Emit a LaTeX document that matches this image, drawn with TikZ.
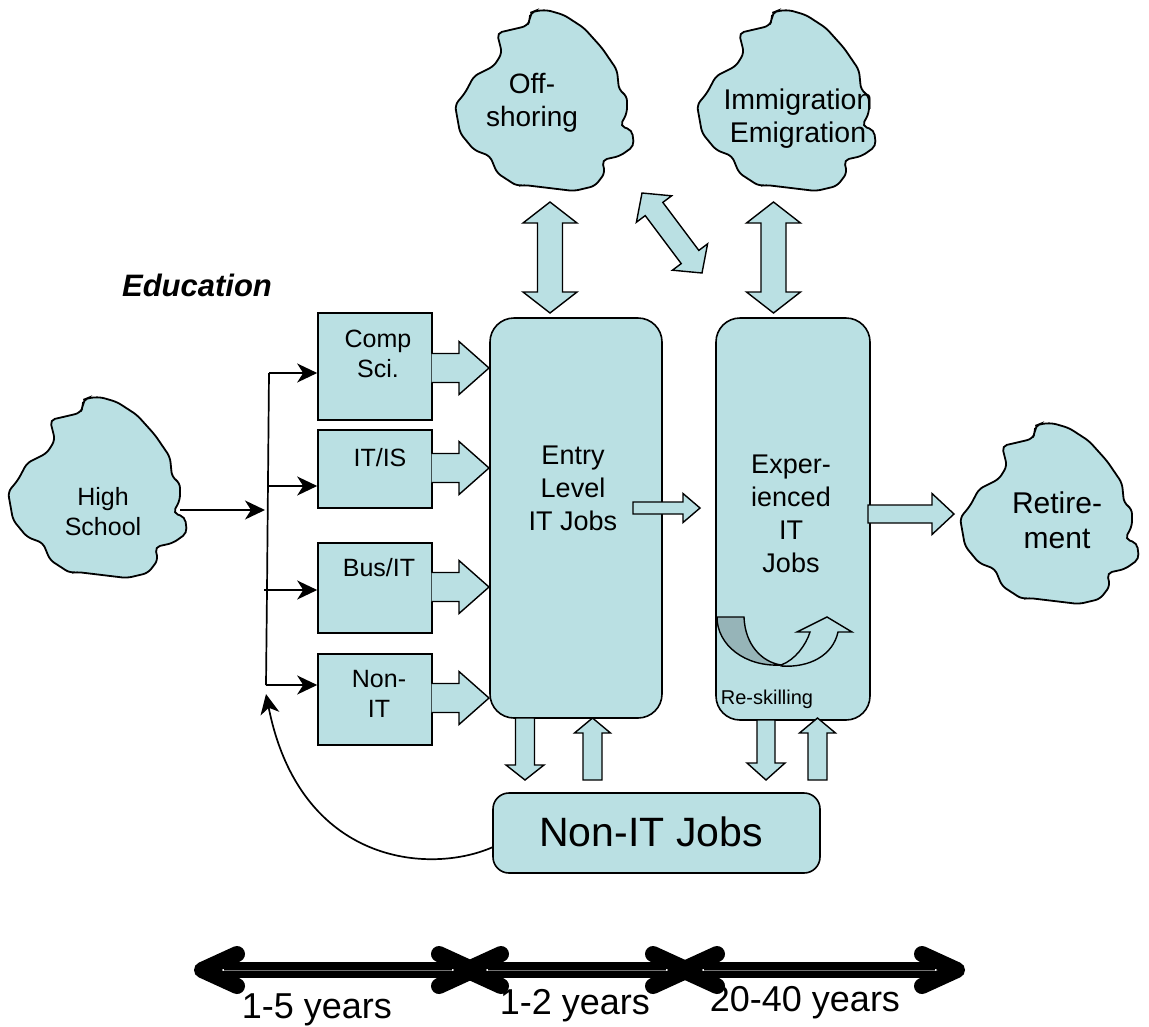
\documentclass[tikz,border=0pt]{standalone}
\usepackage{fontspec}
\setmainfont{Liberation Sans}
\usetikzlibrary{calc,arrows.meta}
\definecolor{lb}{RGB}{186,224,227}
\definecolor{dg}{RGB}{150,180,184}
\newcommand\fsz[2]{\fontsize{#1}{#2}\selectfont}
\tikzset{
 blk/.style={fill=lb,draw=black,line width=1.4pt},
 blkline/.style={draw=black,line width=1.4pt},
 cloud/.style={fill=lb,draw=black,line width=1.8pt,rounded corners=5pt},
 box/.style={draw=black,fill=lb,line width=1.6pt,inner sep=0pt},
 lbl/.style={align=center,inner sep=0pt,text=black},
 conn/.style={line width=1.7pt,-{Stealth[length=20pt,width=19pt,inset=6pt]}},
 tlbar/.style={line width=16pt,line cap=butt},
 tlhead/.style={line width=16pt,line cap=round,line join=round},
}
% block arrow with closed tail
\newcommand\blockarrow[5]{%
  \coordinate (bq) at ($(#2)!#5!(#1)$);
  \filldraw[blk] ($(#1)!#3!90:(#2)$) -- ($(bq)!#3!90:(#2)$) -- ($(bq)!#4!90:(#2)$) -- (#2) -- ($(bq)!#4!-90:(#2)$) -- ($(bq)!#3!-90:(#2)$) -- ($(#1)!#3!-90:(#2)$) -- cycle;}
% block arrow with open tail (joined to a box)
\newcommand\blockarrowopen[5]{%
  \coordinate (bq) at ($(#2)!#5!(#1)$);
  \fill[lb] ($(#1)!#3!90:(#2)$) -- ($(bq)!#3!90:(#2)$) -- ($(bq)!#4!90:(#2)$) -- (#2) -- ($(bq)!#4!-90:(#2)$) -- ($(bq)!#3!-90:(#2)$) -- ($(#1)!#3!-90:(#2)$) -- cycle;
  \draw[blkline] ($(#1)!#3!90:(#2)$) -- ($(bq)!#3!90:(#2)$) -- ($(bq)!#4!90:(#2)$) -- (#2) -- ($(bq)!#4!-90:(#2)$) -- ($(bq)!#3!-90:(#2)$) -- ($(#1)!#3!-90:(#2)$);}
% double block arrow
\newcommand\dblockarrow[5]{%
  \coordinate (bq) at ($(#1)!#5!(#2)$);
  \coordinate (br) at ($(#2)!#5!(#1)$);
  \filldraw[blk] (#1) -- ($(bq)!#4!90:(#2)$) -- ($(bq)!#3!90:(#2)$) -- ($(br)!#3!90:(#2)$) -- ($(br)!#4!90:(#2)$) -- (#2) -- ($(br)!#4!-90:(#2)$) -- ($(br)!#3!-90:(#2)$) -- ($(bq)!#3!-90:(#2)$) -- ($(bq)!#4!-90:(#2)$) -- cycle;}
% irregular cloud blob
\newcommand\blob[1]{%
  \filldraw[cloud,shift={(#1)}]
   (-14,-80) -- (-14,-87) -- (-9,-89) -- (3,-90) -- (20,-85) -- (40,-72) -- (58,-52) -- (73,-30)
   -- (75,-10) -- (83,-4) -- (83,13) -- (76,26) -- (88,30) -- (90,46) -- (76,56) -- (58,60)
   -- (61,73) -- (51,86) -- (30,91) -- (-20,85) -- (-27,86) -- (-47,73) -- (-54,56) -- (-70,50)
   -- (-84,33) -- (-89,5) -- (-79,-7) -- (-70,-24) -- (-50,-34) -- (-42,-47) -- (-47,-67)
   -- (-34,-70) -- (-17,-74) -- cycle;}
% timeline arrow: #1 left tip, #2 right tip
\newcommand\tlarrow[2]{%
  \draw[tlbar] ($(#1)+(22,0)$) -- ($(#2)+(-22,0)$);
  \draw[black!55,line width=0.6pt] ($(#1)+(22,0)$) -- ($(#2)+(-22,0)$);
  \draw[tlhead] ($(#1)+(35,-16)$) -- (#1) -- ($(#1)+(35,16)$);
  \draw[tlhead] ($(#2)+(-35,-16)$) -- (#2) -- ($(#2)+(-35,16)$);}

\begin{document}
\begin{tikzpicture}[x=1pt,y=-1pt]
\useasboundingbox (0,0) rectangle (1149,1026);
\fill[white] (0,0) rectangle (1149,1026);

% clouds
\coordinate (offc) at (544,100);
\coordinate (immc) at (786,100);
\coordinate (hsc) at (97,487);
\coordinate (retc) at (1049,513);
\blob{offc}
\blob{immc}
\blob{hsc}
\blob{retc}

% boxes
\node[box,minimum width=114pt,minimum height=107pt] (cs) at (375,366.5) {};
\node[box,minimum width=114pt,minimum height=78pt] (itis) at (375,469) {};
\node[box,minimum width=114pt,minimum height=90pt] (bus) at (375,588) {};
\node[box,minimum width=114pt,minimum height=91pt] (nonit) at (375,699.5) {};
\node[box,rounded corners=24pt,minimum width=172pt,minimum height=400pt] (entry) at (576,518) {};
\node[box,rounded corners=24pt,minimum width=154pt,minimum height=402pt] (exp) at (793,519) {};
\node[box,rounded corners=16pt,minimum width=327pt,minimum height=80pt] (nonjobs) at (656.5,833) {};

% block arrows from education boxes to entry level
\coordinate (csA) at (431.5,368);   \coordinate (csB) at (489,368);
\coordinate (itA) at (431.5,468);   \coordinate (itB) at (489,468);
\coordinate (buA) at (431.5,587);   \coordinate (buB) at (489,587);
\coordinate (noA) at (431.5,698);   \coordinate (noB) at (489,698);
\blockarrowopen{csA}{csB}{14.5pt}{26.5pt}{30pt}
\blockarrowopen{itA}{itB}{14.5pt}{26.5pt}{30pt}
\blockarrowopen{buA}{buB}{14.5pt}{26.5pt}{30pt}
\blockarrowopen{noA}{noB}{14.5pt}{26.5pt}{30pt}

% entry -> experienced, experienced -> retirement
\coordinate (eeA) at (633,508); \coordinate (eeB) at (700,508);
\blockarrow{eeA}{eeB}{6pt}{14.5pt}{17pt}
\coordinate (erA) at (868,514); \coordinate (erB) at (954,514);
\blockarrow{erA}{erB}{9pt}{20.5pt}{22pt}

% double arrows at top
\coordinate (o1) at (550,202); \coordinate (o2) at (550,313);
\dblockarrow{o1}{o2}{12.5pt}{27pt}{21pt}
\coordinate (m1) at (773.5,202); \coordinate (m2) at (773.5,313);
\dblockarrow{m1}{m2}{12.5pt}{27pt}{21pt}
\coordinate (d1) at (642,193); \coordinate (d2) at (702,273);
\dblockarrow{d1}{d2}{11pt}{22pt}{20pt}

% arrows between IT jobs and non-IT jobs
\coordinate (ed1) at (525,718); \coordinate (ed2) at (525,780);
\blockarrow{ed1}{ed2}{9.5pt}{19pt}{15pt}
\coordinate (eu1) at (592.5,780); \coordinate (eu2) at (592.5,718);
\blockarrow{eu1}{eu2}{9.5pt}{18pt}{15pt}
\coordinate (xd1) at (766,720); \coordinate (xd2) at (766,780);
\blockarrow{xd1}{xd2}{9pt}{19pt}{17pt}
\coordinate (xu1) at (817.5,780); \coordinate (xu2) at (817.5,718);
\blockarrow{xu1}{xu2}{9.5pt}{18pt}{15pt}

% re-skilling U-turn arrow
\filldraw[fill=dg,draw=black,line width=1.4pt] (717,617) -- (744,617) .. controls (745,645) and (762,662) .. (781,665) .. controls (745,667) and (717,645) .. (717,617) -- cycle;
\filldraw[blk] (781,665) .. controls (795,660) and (806,645) .. (810,632) -- (797,632) -- (827,617) -- (852,632) -- (838,632) .. controls (833,655) and (810,668) .. (781,666) -- cycle;

% thin connectors
\coordinate (hsR) at (180,510); \coordinate (tin) at (265,510);
\coordinate (t1) at (269,373); \coordinate (t2) at (268,486);
\coordinate (t3) at (264,590); \coordinate (t4) at (266,685);
\coordinate (t3m) at (267,590);
\draw[conn] (hsR) -- (tin);
\draw[line width=1.7pt] (t1) -- (t3m) -- (t4);
\draw[conn] (t1) -- (t1 -| cs.west);
\draw[conn] (t2) -- (t2 -| itis.west);
\draw[conn] (t3) -- (t3 -| bus.west);
\draw[conn] (t4) -- (t4 -| nonit.west);
\coordinate (nj) at (493,847); \coordinate (fb) at (266,694);
\draw[conn] (nj) .. controls (430,875) and (300,865) .. (fb);

% timeline
\coordinate (a1l) at (202,970); \coordinate (a1r) at (474,970);
\coordinate (a2l) at (466,970); \coordinate (a2r) at (688,970);
\coordinate (a3l) at (682,970); \coordinate (a3r) at (957,970);
\tlarrow{a1l}{a1r}
\tlarrow{a2l}{a2r}
\tlarrow{a3l}{a3r}

% labels
\node[lbl,font=\fsz{28}{33}] (offt) at (532,103) {Off-\\shoring};
\node[lbl,font=\fsz{28.5}{33}] (immt) at (798,119) {Immigration\\Emigration};
\node[lbl,font=\fsz{25}{30}] (hst) at (103,512) {High\\School};
\node[lbl,font=\fsz{30}{35}] (rett) at (1057,520) {Retire-\\ment};
\node[lbl,font=\fsz{25}{30}] (cst) at (378,354) {Comp\\Sci.};
\node[lbl,font=\fsz{25}{30}] (itist) at (380,458) {IT/IS};
\node[lbl,font=\fsz{25}{30}] (bust) at (379,567.5) {Bus/IT};
\node[lbl,font=\fsz{25}{30}] (nonitt) at (379,694) {Non-\\IT};
\node[lbl,font=\fsz{27}{33}] (entryt) at (573,488) {Entry\\Level\\IT Jobs};
\node[lbl,font=\fsz{27}{33}] (expt) at (791,514) {Exper-\\ienced\\IT\\Jobs};
\node[lbl,font=\fsz{41}{48}] (njt) at (651,832) {Non-IT Jobs};
\node[lbl,font=\fsz{31}{36}\bfseries\itshape] (edu) at (197,285) {Education};
\node[lbl,font=\fsz{20}{24}] (rst) at (767,699) {Re-skilling};
\node[lbl,font=\fsz{36}{42}] (y1) at (317,1010) {1-5 years};
\node[lbl,font=\fsz{36}{42}] (y2) at (575,1006) {1-2 years};
\node[lbl,font=\fsz{36}{42}] (y3) at (805,1003) {20-40 years};
\end{tikzpicture}
\end{document}
